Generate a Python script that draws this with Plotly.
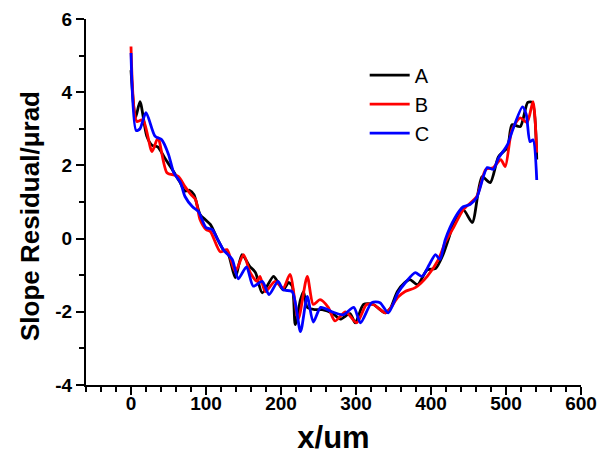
import plotly.graph_objects as go

# ---- data ----
a_x = [0, 6, 12, 21, 28, 36, 45, 55, 65, 72, 78, 84, 92, 100, 106, 115, 123, 130, 139, 148, 158, 166,
       175, 190, 196, 203, 210, 215, 219, 226, 230, 235, 245, 255, 268, 279, 292, 299, 310, 323, 339,
       346, 355, 365, 372, 382, 395, 406, 415, 425, 430, 443, 455, 468, 479, 490, 502, 508, 519, 529,
       535, 541]
a_y = [4.6, 3.3, 3.74, 2.8, 2.55, 2.5, 2.2, 1.89, 1.55, 1.3, 1.32, 1.2, 0.66, 0.5, 0.38, 0.0, -0.3,
       -0.44, -1.07, -0.44, -0.75, -0.93, -1.48, -1.03, -1.2, -1.4, -1.2, -1.3, -2.35, -1.67, -1.45,
       -1.88, -1.94, -1.94, -2.03, -2.2, -2.05, -2.3, -1.8, -1.8, -2.03, -1.9, -1.45, -1.2, -1.12,
       -1.26, -0.85, -0.82, -0.49, 0.1, 0.44, 0.79, 0.44, 1.69, 1.53, 2.24, 2.49, 3.11, 3.06, 3.72,
       3.72, 2.16]

b_x = [0, 8, 16, 28, 36, 48, 63, 72, 80, 86, 92, 100, 106, 119, 128, 139, 150, 159, 168, 172, 179,
       192, 203, 212, 223, 235, 243, 252, 263, 272, 286, 301, 314, 323, 339, 346, 356, 365, 379, 395,
       410, 419, 430, 443, 461, 473, 483, 493, 499, 508, 519, 528, 536, 541]
b_y = [5.25, 3.2, 3.25, 2.38, 2.75, 1.8, 1.7, 1.42, 1.2, 1.07, 0.52, 0.25, 0.19, -0.36, -0.3, -0.9,
       -0.44, -0.93, -1.17, -1.03, -1.45, -1.17, -1.35, -0.98, -2.2, -1.03, -1.8, -1.67, -1.88, -2.25,
       -2.0, -2.3, -1.8, -1.8, -2.03, -1.9, -1.6, -1.45, -1.34, -1.03, -0.57, -0.1, 0.3, 0.79, 1.15,
       1.89, 1.94, 2.16, 1.97, 2.98, 3.3, 3.17, 3.74, 2.35]

c_x = [0, 7, 12, 20, 32, 41, 50, 57, 66, 72, 82, 90, 100, 108, 115, 123, 135, 143, 154, 163, 175,
       184, 196, 203, 215, 226, 235, 243, 253, 268, 283, 297, 306, 321, 332, 343, 356, 366, 379, 388,
       398, 406, 412, 419, 432, 443, 452, 461, 475, 483, 490, 502, 508, 522, 527, 532, 536, 541]
c_y = [5.07, 2.95, 3.0, 3.44, 2.8, 2.7, 2.3, 1.8, 1.53, 1.15, 0.87, 0.74, 0.3, 0.25, 0.0, -0.3, -0.57,
       -1.1, -0.77, -1.3, -1.17, -1.53, -1.17, -1.4, -1.45, -2.54, -1.58, -2.28, -1.88, -2.0, -2.08,
       -1.88, -2.3, -1.75, -1.75, -2.03, -1.48, -1.2, -0.93, -1.03, -0.7, -0.44, -0.57, -0.03, 0.57,
       0.87, 0.93, 1.12, 1.94, 1.89, 2.2, 2.57, 2.92, 3.6, 3.39, 2.65, 2.7, 1.6]

series_names = ["A", "B", "C"]
series_colors = ["#000000", "#ff0000", "#0000ff"]

x_ticks = [0, 100, 200, 300, 400, 500, 600]
x_ticktext = ["0", "100", "200", "300", "400", "500", "600"]
y_ticks = [-4, -2, 0, 2, 4, 6]
y_ticktext = ["-4", "-2", "0", "2", "4", "6"]

FONT = "Arial, Liberation Sans, sans-serif"

fig = go.Figure()
for xs, ys, name, col in zip([a_x, b_x, c_x], [a_y, b_y, c_y], series_names, series_colors):
    fig.add_trace(go.Scatter(x=xs, y=ys, mode="lines", name=name,
                             line=dict(color=col, width=2.8, shape="spline", smoothing=0.7)))

axis_common = dict(
    showline=True, linecolor="black", linewidth=2, mirror=False,
    ticks="outside", ticklen=8, tickwidth=2, tickcolor="black",
    showgrid=False, zeroline=False, automargin=False,
    tickfont=dict(family=FONT, size=19, color="black", weight="bold"),
)

fig.update_layout(
    width=599, height=458,
    margin=dict(l=86, r=18, t=19, b=73),
    paper_bgcolor="white", plot_bgcolor="white",
    xaxis=dict(range=[-60, 600], tickmode="array", tickvals=x_ticks,
               ticktext=["<b>%s</b>" % t for t in x_ticktext], ticklabelstandoff=-8,
               minor=dict(dtick=20, tick0=0, ticks="outside", ticklen=5, tickwidth=2, tickcolor="black"),
               title=dict(text="<b>x/um</b>", font=dict(family=FONT, size=31, color="black", weight="bold"),
                          standoff=14),
               **axis_common),
    yaxis=dict(range=[-4, 6], tickmode="array", tickvals=y_ticks,
               ticktext=["<b>%s</b>" % t for t in y_ticktext],
               minor=dict(dtick=1, tick0=0, ticks="outside", ticklen=5, tickwidth=2, tickcolor="black"),
               **axis_common),
    annotations=[dict(text="<b>Slope Residual/μrad</b>", textangle=-90, showarrow=False,
                      xref="paper", yref="paper", x=-0.113, y=0.462, xanchor="center", yanchor="middle",
                      font=dict(family=FONT, size=26, color="black", weight="bold"))],
    legend=dict(x=0.563, y=0.90, xanchor="left", yanchor="top", bgcolor="rgba(0,0,0,0)",
                font=dict(family=FONT, size=20, color="black"), tracegroupgap=0, itemwidth=40),
    showlegend=True,
)

fig.write_html("out.html")
